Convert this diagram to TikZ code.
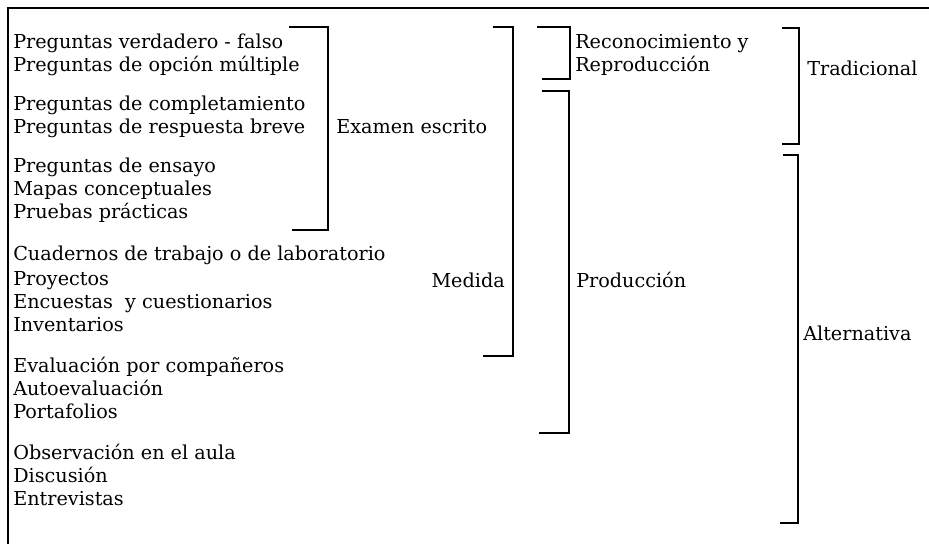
\documentclass[tikz,border=0pt]{standalone}
\usepackage{fontspec}
\setmainfont{DejaVu Serif}
\tikzset{item/.style={anchor=base west, inner sep=0pt, font=\fontsize{14.4}{17}\selectfont},
  tag/.style={item},
  brk/.style={line width=1.1pt, line join=miter}}

\begin{document}
\begin{tikzpicture}[x=0.75pt, y=-0.75pt]
    \useasboundingbox (0,0) rectangle (929,544);
    \draw[line width=1pt] (929,8) -- (8,8) -- (8,544);
    % items
    \node[item] (vf) at (13,48) {Preguntas verdadero - falso};
    \node[item] (opm) at (13,71) {Preguntas de opción múltiple};
    \node[item] (compl) at (13,110) {Preguntas de completamiento};
    \node[item] (resp) at (13,133) {Preguntas de respuesta breve};
    \node[item] (ensayo) at (13,172) {Preguntas de ensayo};
    \node[item] (mapas) at (13,195) {Mapas conceptuales};
    \node[item] (pruebas) at (13,218) {Pruebas prácticas};
    \node[item] (cuad) at (13,260) {Cuadernos de trabajo o de laboratorio};
    \node[item] (proy) at (13,285) {Proyectos};
    \node[item] (encu) at (13,308) {Encuestas\ \ y cuestionarios};
    \node[item] (inv) at (13,331) {Inventarios};
    \node[item] (pares) at (13,372) {Evaluación por compañeros};
    \node[item] (auto) at (13,395) {Autoevaluación};
    \node[item] (port) at (13,418) {Portafolios};
    \node[item] (obs) at (13,459) {Observación en el aula};
    \node[item] (disc) at (13,482) {Discusión};
    \node[item] (entr) at (13,505) {Entrevistas};
    % labels
    \node[tag] (examen) at (336,133) {Examen escrito};
    \node[tag, anchor=base east] (medida) at (505,287) {Medida};
    \node[tag] (recon) at (575,48) {Reconocimiento y};
    \node[tag] (reprod) at (575,71) {Reproducción};
    \node[tag] (produc) at (576,287) {Producción};
    \node[tag] (trad) at (807,75) {Tradicional};
    \node[tag] (alter) at (803,340) {Alternativa};
    % brackets
    \draw[brk] (289,27) -- (328,27) -- (328,230) -- (292,230);
    \draw[brk] (493,27) -- (513,27) -- (513,356) -- (483,356);
    \draw[brk] (537,27) -- (570,27) -- (570,79) -- (542,79);
    \draw[brk] (542,91) -- (569,91) -- (569,433) -- (539,433);
    \draw[brk] (782,28) -- (799,28) -- (799,144) -- (782,144);
    \draw[brk] (783,155) -- (798,155) -- (798,523) -- (780,523);
\end{tikzpicture}
\end{document}
